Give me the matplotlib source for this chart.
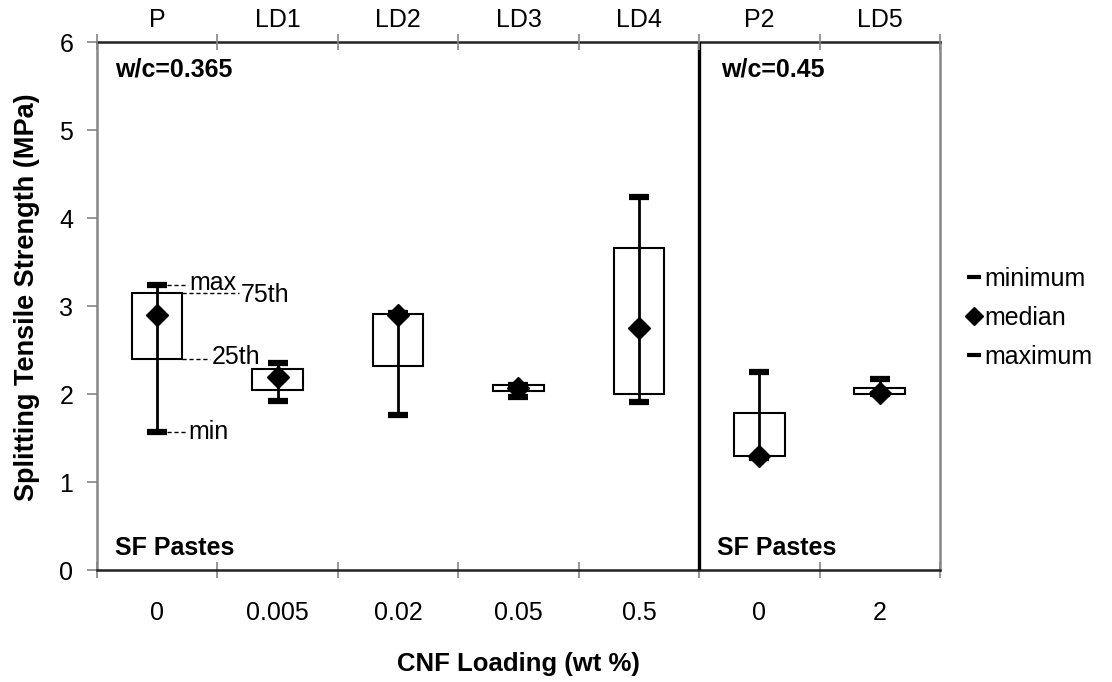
import matplotlib
matplotlib.use("Agg")
import matplotlib.pyplot as plt
from matplotlib.lines import Line2D
import numpy as np

plt.rcParams['font.family'] = ['Liberation Sans', 'DejaVu Sans']

# splitting tensile strength statistics per mix (MPa)
mixes = ["P", "LD1", "LD2", "LD3", "LD4", "P2", "LD5"]
loading = ["0", "0.005", "0.02", "0.05", "0.5", "0", "2"]
s_min = [1.57, 1.92, 1.76, 1.97, 1.91, 1.27, 2.00]
s_q1 = [2.40, 2.05, 2.32, 2.03, 2.00, 1.30, 2.00]
s_med = [2.90, 2.19, 2.90, 2.07, 2.75, 1.29, 2.01]
s_q3 = [3.15, 2.28, 2.91, 2.10, 3.66, 1.78, 2.07]
s_max = [3.24, 2.35, 2.92, 2.10, 4.24, 2.25, 2.17]

grey = "#868686"
x = np.arange(len(mixes))

fig = plt.figure(figsize=(11.12, 6.82), dpi=100)
ax = fig.add_axes([0.0872, 0.1642, 0.7581, 0.7742])

# boxes (25th-75th)
ax.bar(x, np.array(s_q3) - np.array(s_q1), bottom=s_q1, width=0.42,
       facecolor="white", edgecolor="black", linewidth=1.5, zorder=2)
# whiskers
ax.vlines(x, s_min, s_max, color="black", linewidth=2.0, zorder=3)
ax.plot(x, s_min, linestyle="none", marker="_", markersize=15,
        markeredgewidth=4.5, color="black", zorder=4)
ax.plot(x, s_max, linestyle="none", marker="_", markersize=15,
        markeredgewidth=4.5, color="black", zorder=4)
ax.plot(x, s_med, linestyle="none", marker="D", markersize=11,
        color="black", zorder=5)

# separator between the two w/c groups
ax.axvline(4.5, color="black", linewidth=2.4, zorder=6)

ax.set_xlim(-0.5, 6.5)
ax.set_ylim(0, 6)

fs = 18

# annotation of the first box
dash = dict(color="black", linewidth=1.0, linestyle=(0, (3, 2)), zorder=1)
ax.plot([0.08, 0.26], [s_max[0], s_max[0]], **dash)
ax.plot([0.21, 0.68], [s_q3[0], s_q3[0]], **dash)
ax.plot([0.21, 0.44], [s_q1[0], s_q1[0]], **dash)
ax.plot([0.08, 0.25], [s_min[0], s_min[0]], **dash)
ax.text(0.27, s_max[0] + 0.02, "max", fontsize=fs, va="center", ha="left")
ax.text(0.69, s_q3[0] - 0.02, "75th", fontsize=fs, va="center", ha="left")
ax.text(0.45, s_q1[0] + 0.02, "25th", fontsize=fs, va="center", ha="left")
ax.text(0.26, s_min[0], "min", fontsize=fs, va="center", ha="left")

ax.text(-0.35, 5.69, "w/c=0.365", fontsize=fs, fontweight="bold", va="center")
ax.text(4.68, 5.69, "w/c=0.45", fontsize=fs, fontweight="bold", va="center")
ax.text(-0.35, 0.25, "SF Pastes", fontsize=fs, fontweight="bold", va="center")
ax.text(4.65, 0.25, "SF Pastes", fontsize=fs, fontweight="bold", va="center")

# spines
for side in ["left", "right"]:
    ax.spines[side].set_color(grey)
    ax.spines[side].set_linewidth(1.8)
for side in ["top", "bottom"]:
    ax.spines[side].set_color("#222222")
    ax.spines[side].set_linewidth(1.8)

# y axis
ax.set_yticks(range(7))
ax.tick_params(axis="y", direction="out", length=7, width=1.2, color=grey,
               labelsize=fs, pad=10)

# x axis: ticks at group borders, labels at centres
edges = np.arange(-0.5, 7.0, 1.0)
ax.set_xticks(edges)
ax.set_xticklabels([])
ax.set_xticks(x, minor=True)
ax.set_xticklabels(loading, minor=True)
ax.tick_params(axis="x", which="major", direction="inout", length=12,
               width=1.2, color=grey)
ax.tick_params(axis="x", which="minor", length=0, labelsize=fs, pad=22)

top = ax.twiny()
top.set_xlim(ax.get_xlim())
top.set_xticks(edges)
top.set_xticklabels([])
top.set_xticks(x, minor=True)
top.set_xticklabels(mixes, minor=True)
top.tick_params(axis="x", which="major", direction="inout", length=12,
                width=1.2, color=grey)
top.tick_params(axis="x", which="minor", length=0, labelsize=fs, pad=7)
for s in top.spines.values():
    s.set_visible(False)

ax.set_xlabel("CNF Loading (wt %)", fontsize=18.5, fontweight="bold",
              labelpad=20)
ax.set_ylabel("Splitting Tensile Strength (MPa)", fontsize=19.5,
              fontweight="bold")
ax.yaxis.set_label_coords(-0.068, 0.517)

handles = [
    Line2D([], [], linestyle="none", marker="_", markersize=10,
           markeredgewidth=3, color="black"),
    Line2D([], [], linestyle="none", marker="D", markersize=9, color="black"),
    Line2D([], [], linestyle="none", marker="_", markersize=10,
           markeredgewidth=3, color="black"),
]
fig.legend(handles, ["minimum", "median", "maximum"], loc="center left",
           bbox_to_anchor=(0.858, 1 - 318 / 682), frameon=False, fontsize=fs,
           handlelength=0.6, handletextpad=0.1, labelspacing=0.6,
           borderpad=0)

fig.savefig("out.png", dpi=100)
